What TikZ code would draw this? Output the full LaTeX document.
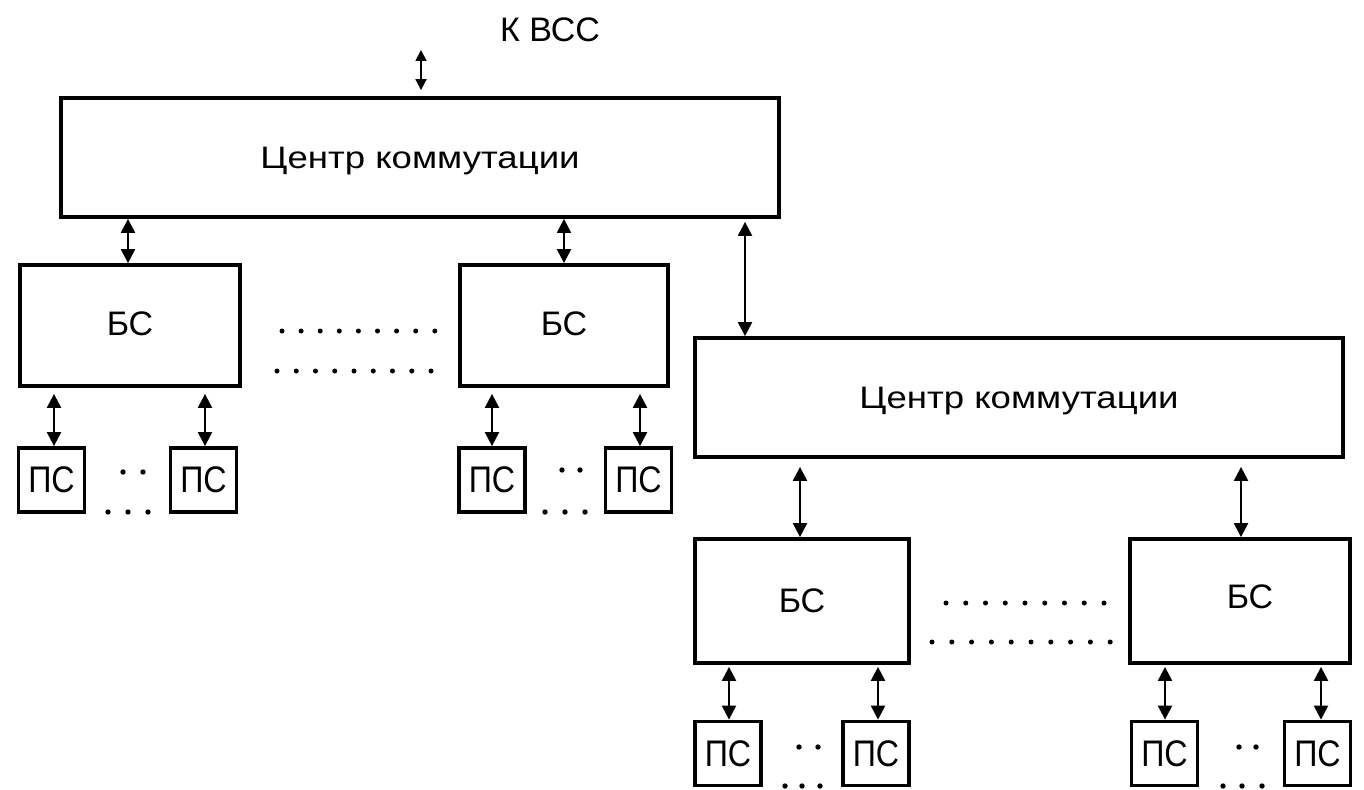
\documentclass[tikz,border=0pt]{standalone}
\usepackage{fontspec}
\setmainfont{Liberation Sans}
\newfontfamily\widefont[FakeStretch=1.18]{Liberation Sans}
\newfontfamily\narrowfont[FakeStretch=0.87]{Liberation Sans}
\usetikzlibrary{arrows.meta}
\begin{document}
\begin{tikzpicture}[x=1pt,y=-1pt,
  box/.style={draw=black, line width=3.8pt, rectangle, inner sep=0pt, text depth=0pt},
  ckbox/.style={box, font=\widefont\fontsize{31}{31}\selectfont, minimum height=119pt},
  bsbox/.style={box, font=\fontsize{34}{34}\selectfont, minimum height=121pt},
  psbox/.style={box, font=\narrowfont\fontsize{37}{37}\selectfont, minimum width=66pt, minimum height=64pt},
  conn/.style={line width=2.2pt, {Triangle[length=14pt,width=14pt]}-{Triangle[length=14pt,width=14pt]}},
  connsmall/.style={line width=1.8pt, {Triangle[length=11pt,width=11pt]}-{Triangle[length=11pt,width=11pt]}},
  dotfill/.style={fill=black}
]
\useasboundingbox (0,0) rectangle (1364,789);
\fill[white] (0,0) rectangle (1364,789);

% main boxes
\node[ckbox, minimum width=718pt] (ck1) at (420,157.5) {Центр коммутации};
\node[ckbox, minimum width=648pt] (ck2) at (1019,397.5) {Центр коммутации};
\node[bsbox, minimum width=220pt] (bs1) at (130,325.5) {\raisebox{4pt}{БС}};
\node[bsbox, minimum width=208pt] (bs2) at (564,325.5) {\raisebox{3pt}{БС}};
\node[bsbox, minimum width=214pt, minimum height=124pt] (bs3) at (802,601) {БС};
\node[bsbox, minimum width=220pt, minimum height=124pt] (bs4) at (1240,601) {\hspace*{20pt}\raisebox{9pt}{БС}};

% subscriber stations
\node[psbox] (ps1) at (51.5,480) {ПС};
\node[psbox] (ps2) at (203.5,480) {ПС};
\node[psbox] (ps3) at (492,480) {ПС};
\node[psbox] (ps4) at (638.5,480) {ПС};
\node[psbox] (ps5) at (728,753.5) {ПС};
\node[psbox] (ps6) at (876,753.5) {ПС};
\node[psbox] (ps7) at (1164.5,753.5) {ПС};
\node[psbox] (ps8) at (1317.5,753.5) {ПС};

\node[font=\fontsize{34}{34}\selectfont] (kvss) at (550,30) {К ВСС};

% x positions of connectors
\coordinate (top) at (421,50);
\coordinate (c1) at (128,0);
\coordinate (c2) at (564,0);
\coordinate (c3) at (745,0);
\coordinate (c4) at (800,0);
\coordinate (c5) at (1241,0);
\coordinate (c6) at (54,0);
\coordinate (c7) at (205,0);
\coordinate (c8) at (492,0);
\coordinate (c9) at (640,0);
\coordinate (c10) at (729,0);
\coordinate (c11) at (878,0);
\coordinate (c12) at (1165,0);
\coordinate (c13) at (1321,0);

\draw[connsmall, shorten >=6pt] (top) -- (ck1.north -| top);
\draw[conn] (ck1.south -| c1) -- (bs1.north -| c1);
\draw[conn] (ck1.south -| c2) -- (bs2.north -| c2);
\draw[conn, shorten <=3pt] (ck1.south -| c3) -- (ck2.north -| c3);
\draw[conn, shorten <=8pt] (ck2.south -| c4) -- (bs3.north -| c4);
\draw[conn, shorten <=8pt] (ck2.south -| c5) -- (bs4.north -| c5);
\draw[conn, shorten <=6pt] (bs1.south -| c6) -- (ps1.north -| c6);
\draw[conn, shorten <=6pt] (bs1.south -| c7) -- (ps2.north -| c7);
\draw[conn, shorten <=6pt] (bs2.south -| c8) -- (ps3.north -| c8);
\draw[conn, shorten <=6pt] (bs2.south -| c9) -- (ps4.north -| c9);
\draw[conn, shorten <=2pt] (bs3.south -| c10) -- (ps5.north -| c10);
\draw[conn, shorten <=2pt] (bs3.south -| c11) -- (ps6.north -| c11);
\draw[conn, shorten <=2pt] (bs4.south -| c12) -- (ps7.north -| c12);
\draw[conn, shorten <=2pt] (bs4.south -| c13) -- (ps8.north -| c13);

% dotted ellipses between base stations
\foreach \i in {0,...,8} \fill[dotfill] (282+\i*19.1,331) circle (2.5pt);
\foreach \i in {0,...,8} \fill[dotfill] (277+\i*19.25,371) circle (2.5pt);
\foreach \i in {0,...,8} \fill[dotfill] (946+\i*19.75,603) circle (2.5pt);
\foreach \i in {0,...,9} \fill[dotfill] (932+\i*19.8,642) circle (2.5pt);

% dots between subscriber stations
\foreach \x in {123,143} \fill[dotfill] (\x,472) circle (2.7pt);
\foreach \x in {108,128,148} \fill[dotfill] (\x,512) circle (2.7pt);
\foreach \x in {562,580} \fill[dotfill] (\x,470) circle (2.7pt);
\foreach \x in {545,565,585} \fill[dotfill] (\x,512) circle (2.7pt);
\foreach \x in {799,818} \fill[dotfill] (\x,747) circle (2.7pt);
\foreach \x in {785,802,820} \fill[dotfill] (\x,786) circle (2.7pt);
\foreach \x in {1239,1256} \fill[dotfill] (\x,747) circle (2.7pt);
\foreach \x in {1223,1242,1262} \fill[dotfill] (\x,786) circle (2.7pt);
\end{tikzpicture}
\end{document}
